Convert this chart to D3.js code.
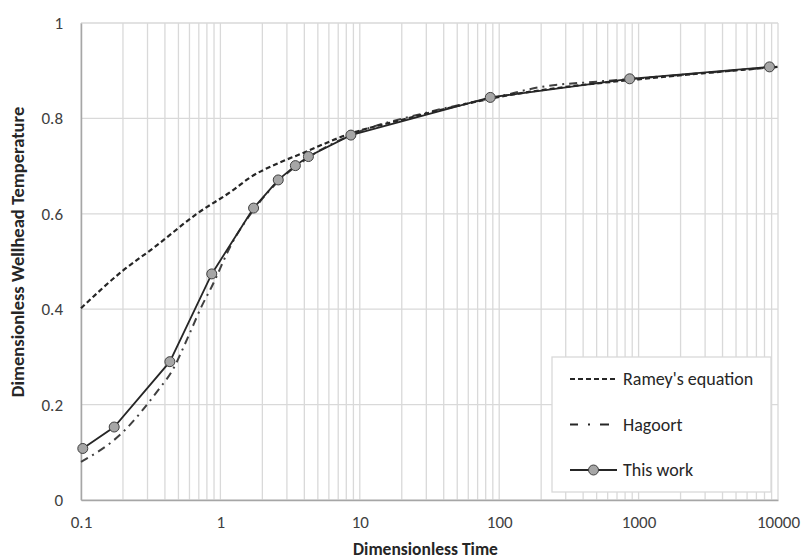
<!DOCTYPE html>
<html>
<head>
<meta charset="utf-8">
<script src="https://cdn.jsdelivr.net/npm/d3@7"></script>
<style>
  body { margin: 0; background: #fff; }
  text { font-family: Calibri, Carlito, "Open Sans", sans-serif; }
</style>
</head>
<body>
<div id="chart"></div>
<script>
// Data
const workTime = [0.103, 0.173, 0.434, 0.867, 1.73, 2.6, 3.45, 4.28, 8.63, 86.3, 863, 8690];
const workTemp = [0.108, 0.153, 0.290, 0.474, 0.612, 0.671, 0.701, 0.720, 0.765, 0.844, 0.883, 0.908];

const rameyTime = [0.1, 0.196, 0.34, 0.677, 1.24, 1.63, 2.5, 3.73, 8.5, 20, 50, 100, 300, 1000, 3000, 10000];
const rameyTemp = [0.402, 0.479, 0.531, 0.600, 0.650, 0.676, 0.704, 0.725, 0.768, 0.797, 0.826, 0.845, 0.866, 0.882, 0.895, 0.908];

const hagoortTime = [0.1, 0.196, 0.359, 0.447, 0.589, 0.733, 0.866, 1.21, 1.73, 2.6, 4.28, 8.63, 30, 100, 200, 500, 1000, 10000];
const hagoortTemp = [0.080, 0.140, 0.231, 0.269, 0.343, 0.406, 0.447, 0.538, 0.608, 0.668, 0.718, 0.765, 0.812, 0.846, 0.866, 0.877, 0.884, 0.908];

const xTicks = [0.1, 1, 10, 100, 1000, 10000];
const yTicks = [0, 0.2, 0.4, 0.6, 0.8, 1];
const legendNames = ["Ramey's equation", "Hagoort", "This work"];

const margin = { top: 23, right: 23, bottom: 60, left: 81 },
    width = 801 - margin.left - margin.right,
    height = 560 - margin.top - margin.bottom;

const svg = d3.select("#chart")
    .append("svg")
    .attr("width", 801)
    .attr("height", 560);

const g = svg.append("g")
    .attr("transform", `translate(${margin.left},${margin.top})`);

const x = d3.scaleLog().domain([0.1, 10000]).range([0, width]);
const y = d3.scaleLinear().domain([0, 1]).range([height, 0]);

// minor + major vertical gridlines (2..9 in each decade)
const gridX = [];
for (let d = -1; d < 4; d++) {
    for (let k = 1; k < 10; k++) gridX.push(k * Math.pow(10, d));
}
gridX.push(10000);

g.selectAll(".vgrid")
    .data(gridX)
    .join("line")
    .attr("x1", d => x(d)).attr("x2", d => x(d))
    .attr("y1", 0).attr("y2", height)
    .attr("stroke", "#d9d9d9")
    .attr("stroke-width", 1.3);

g.selectAll(".hgrid")
    .data(yTicks)
    .join("line")
    .attr("x1", 0).attr("x2", width)
    .attr("y1", d => y(d)).attr("y2", d => y(d))
    .attr("stroke", "#d9d9d9")
    .attr("stroke-width", 1.3);

// axes
const xAxis = g.append("g")
    .attr("transform", `translate(0,${height})`)
    .call(d3.axisBottom(x).tickValues(xTicks).tickFormat(d3.format("~g")).tickSize(0).tickPadding(16));
xAxis.select(".domain").attr("stroke", "#a6a6a6").attr("stroke-width", 1.5);

const yAxis = g.append("g")
    .call(d3.axisLeft(y).tickValues(yTicks).tickFormat(d3.format("~g")).tickSize(0).tickPadding(18));
yAxis.select(".domain").attr("stroke", "#a6a6a6").attr("stroke-width", 1.5);

svg.selectAll(".tick text")
    .attr("fill", "#404040")
    .style("font-size", "17px");

// axis titles
svg.append("text")
    .attr("x", margin.left + width / 2 - 4)
    .attr("y", 555)
    .attr("text-anchor", "middle")
    .attr("fill", "#262626")
    .style("font-size", "17.5px")
    .style("font-weight", "bold")
    .text("Dimensionless Time");

svg.append("text")
    .attr("transform", `translate(24,252) rotate(-90)`)
    .attr("text-anchor", "middle")
    .attr("fill", "#262626")
    .style("font-size", "18.5px")
    .style("font-weight", "bold")
    .text("Dimensionless Wellhead Temperature");

// lines
const smooth = d3.line().x(d => x(d[0])).y(d => y(d[1])).curve(d3.curveMonotoneX);
const straight = d3.line().x(d => x(d[0])).y(d => y(d[1]));

g.append("path")
    .datum(d3.zip(hagoortTime, hagoortTemp))
    .attr("d", smooth)
    .attr("fill", "none")
    .attr("stroke", "#404040")
    .attr("stroke-width", 2)
    .attr("stroke-dasharray", "8,5,2,5");

g.append("path")
    .datum(d3.zip(rameyTime, rameyTemp))
    .attr("d", smooth)
    .attr("fill", "none")
    .attr("stroke", "#262626")
    .attr("stroke-width", 2.2)
    .attr("stroke-dasharray", "5,3");

const work = d3.zip(workTime, workTemp);
g.append("path")
    .datum(work)
    .attr("d", straight)
    .attr("fill", "none")
    .attr("stroke", "#262626")
    .attr("stroke-width", 1.8);

g.selectAll(".pt")
    .data(work)
    .join("circle")
    .attr("cx", d => x(d[0]))
    .attr("cy", d => y(d[1]))
    .attr("r", 5)
    .attr("fill", "#a6a6a6")
    .attr("stroke", "#404040")
    .attr("stroke-width", 1);

// legend
const legend = svg.append("g").attr("transform", "translate(552,357)");
legend.append("rect")
    .attr("width", 219).attr("height", 135)
    .attr("fill", "#fff")
    .attr("stroke", "#d9d9d9")
    .attr("stroke-width", 1.3);

const rows = legend.selectAll(".row")
    .data(legendNames)
    .join("g")
    .attr("transform", (d, i) => `translate(0,${22 + i * 45.5})`);

rows.append("line")
    .attr("x1", 18).attr("x2", (d, i) => i === 1 ? 57 : 65)
    .attr("stroke", "#262626")
    .attr("stroke-width", (d, i) => i === 1 ? 2 : 2.2)
    .attr("stroke-dasharray", (d, i) => i === 0 ? "5,3" : i === 1 ? "8,10,2,10,9" : null);

rows.filter((d, i) => i === 2).append("circle")
    .attr("cx", 41.5).attr("r", 5)
    .attr("fill", "#a6a6a6")
    .attr("stroke", "#404040");

rows.append("text")
    .attr("x", 71)
    .attr("dy", "0.35em")
    .attr("fill", "#262626")
    .style("font-size", "18px")
    .text(d => d);
</script>
</body>
</html>
